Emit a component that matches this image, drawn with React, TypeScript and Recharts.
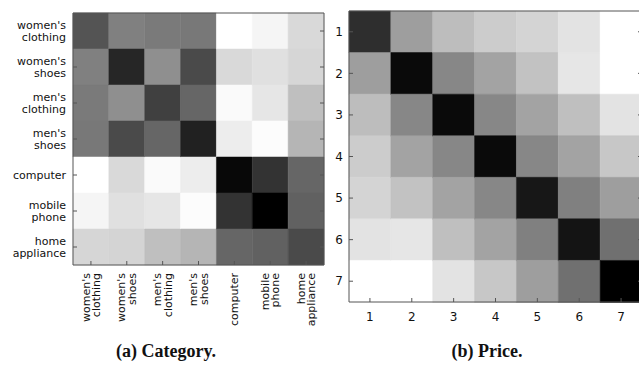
import { BarChart, Bar, Cell, XAxis, YAxis } from "recharts";

// row / column labels of the category similarity matrix
const categories = [
  "women's clothing",
  "women's shoes",
  "men's clothing",
  "men's shoes",
  "computer",
  "mobile phone",
  "home appliance",
];

// similarity, 1 = black, 0 = white
const categorySim = [
  [0.67, 0.5, 0.52, 0.53, 0.0, 0.04, 0.15],
  [0.5, 0.85, 0.44, 0.71, 0.15, 0.12, 0.16],
  [0.52, 0.44, 0.75, 0.6, 0.02, 0.1, 0.25],
  [0.53, 0.71, 0.6, 0.87, 0.07, 0.01, 0.29],
  [0.0, 0.15, 0.02, 0.07, 0.97, 0.8, 0.6],
  [0.04, 0.12, 0.1, 0.01, 0.8, 1.0, 0.62],
  [0.16, 0.17, 0.25, 0.29, 0.6, 0.62, 0.71],
];

const priceLevels = ["1", "2", "3", "4", "5", "6", "7"];

const priceSim = [
  [0.82, 0.38, 0.26, 0.2, 0.17, 0.11, 0.0],
  [0.38, 0.96, 0.47, 0.36, 0.24, 0.1, 0.0],
  [0.26, 0.47, 0.96, 0.47, 0.36, 0.25, 0.11],
  [0.2, 0.36, 0.47, 0.96, 0.47, 0.36, 0.22],
  [0.17, 0.24, 0.36, 0.47, 0.91, 0.5, 0.38],
  [0.11, 0.1, 0.25, 0.36, 0.5, 0.92, 0.56],
  [0.0, 0.0, 0.11, 0.22, 0.38, 0.56, 1.0],
];

const captions = ["(a) Category.", "(b) Price."];

const FRAME = "#555";
const FONT = "'DejaVu Sans', sans-serif";
const TEXT = "#111";

function gray(v: number) {
  const g = Math.round(255 * (1 - v));
  return `rgb(${g},${g},${g})`;
}

function toRows(labels: string[]) {
  return labels.map((name) => {
    const row: Record<string, string | number> = { name };
    labels.forEach((_, j) => (row[`c${j}`] = 1));
    return row;
  });
}

function BottomTick(props: any) {
  const { x, y, payload, labels, rotate, fontSize } = props;
  const label = labels[Math.floor(payload.value)];
  const lines = rotate ? label.split(" ") : [label];
  return (
    <g>
      <line x1={x} x2={x} y1={y} y2={y - 4} stroke={FRAME} />
      {rotate ? (
        <text
          transform={`translate(${x},${y + 8}) rotate(-90)`}
          textAnchor="end"
          fontSize={fontSize}
          fontFamily={FONT}
          fill={TEXT}
        >
          {lines.map((l: string, k: number) => (
            <tspan key={k} x={0} y={(k - (lines.length - 1) / 2) * 10.5} dy="0.35em">
              {l}
            </tspan>
          ))}
        </text>
      ) : (
        <text x={x} y={y + 15} dy="0.35em" textAnchor="middle" fontSize={fontSize} fontFamily={FONT} fill={TEXT}>
          {label}
        </text>
      )}
    </g>
  );
}

function LeftTick(props: any) {
  const { x, y, payload, gap, fontSize } = props;
  const lines = String(payload.value).split(" ");
  return (
    <g>
      <line x1={x} x2={x + 4} y1={y} y2={y} stroke={FRAME} />
      <text textAnchor="end" fontSize={fontSize} fontFamily={FONT} fill={TEXT}>
        {lines.map((l: string, k: number) => (
          <tspan key={k} x={x - gap} y={y + (k - (lines.length - 1) / 2) * 11.5} dy="0.35em">
            {l}
          </tspan>
        ))}
      </text>
    </g>
  );
}

function TopTick(props: any) {
  const { x, y } = props;
  return <line x1={x} x2={x} y1={y} y2={y + 4} stroke={FRAME} />;
}

function RightTick(props: any) {
  const { x, y } = props;
  return <line x1={x} x2={x - 4} y1={y} y2={y} stroke={FRAME} />;
}

interface HeatmapProps {
  labels: string[];
  matrix: number[][];
  width: number;
  height: number;
  margin: { top: number; right: number; bottom: number; left: number };
  yWidth: number;
  xHeight: number;
  rotate: boolean;
  fontSize: number;
  labelGap: number;
}

function Heatmap({ labels, matrix, width, height, margin, yWidth, xHeight, rotate, fontSize, labelGap }: HeatmapProps) {
  const rows = toRows(labels);
  const ticks = labels.map((_, j) => j + 0.5);
  return (
    <BarChart
      width={width}
      height={height}
      data={rows}
      layout="vertical"
      margin={margin}
      barCategoryGap={0}
      barGap={0}
    >
      <XAxis
        type="number"
        domain={[0, labels.length]}
        ticks={ticks}
        interval={0}
        height={xHeight}
        tickSize={0}
        tickMargin={0}
        tickLine={false}
        axisLine={{ stroke: FRAME }}
        tick={(p: any) => <BottomTick {...p} labels={labels} rotate={rotate} fontSize={fontSize} />}
      />
      <XAxis
        xAxisId="top"
        orientation="top"
        type="number"
        domain={[0, labels.length]}
        ticks={ticks}
        interval={0}
        height={1}
        tickSize={0}
        tickMargin={0}
        tickLine={false}
        axisLine={{ stroke: FRAME }}
        tick={(p: any) => <TopTick {...p} />}
      />
      <YAxis
        type="category"
        dataKey="name"
        width={yWidth}
        interval={0}
        tickSize={0}
        tickMargin={0}
        tickLine={false}
        axisLine={{ stroke: FRAME }}
        tick={(p: any) => <LeftTick {...p} gap={labelGap} fontSize={fontSize} />}
      />
      <YAxis
        yAxisId="r"
        orientation="right"
        type="category"
        dataKey="name"
        width={1}
        interval={0}
        tickSize={0}
        tickMargin={0}
        tickLine={false}
        axisLine={{ stroke: FRAME }}
        tick={(p: any) => <RightTick {...p} />}
      />
      {labels.map((_, j) => (
        <Bar key={j} dataKey={`c${j}`} stackId="s" isAnimationActive={false}>
          {matrix.map((row, i) => (
            <Cell key={i} fill={gray(row[j])} stroke={gray(row[j])} strokeWidth={0.5} />
          ))}
        </Bar>
      ))}
    </BarChart>
  );
}

export default function App() {
  return (
    <div
      style={{
        position: "absolute",
        left: 0,
        top: 0,
        width: 639,
        height: 365,
        overflow: "hidden",
        background: "#fff",
      }}
    >
      <div style={{ position: "absolute", left: 0, top: 0 }}>
        <Heatmap
          labels={categories}
          matrix={categorySim}
          width={330}
          height={335}
          margin={{ top: 12, right: 5, bottom: 0, left: 0 }}
          yWidth={73}
          xHeight={70}
          rotate={true}
          fontSize={11}
          labelGap={7}
        />
      </div>
      <div style={{ position: "absolute", left: 330, top: 0 }}>
        <Heatmap
          labels={priceLevels}
          matrix={priceSim}
          width={320}
          height={335}
          margin={{ top: 10, right: 7, bottom: 0, left: 0 }}
          yWidth={19}
          xHeight={33}
          rotate={false}
          fontSize={12}
          labelGap={6}
        />
      </div>
      <svg width={639} height={365} style={{ position: "absolute", left: 0, top: 0, pointerEvents: "none" }}>
        <text x={166} y={357} textAnchor="middle" fontFamily="'Liberation Serif', serif" fontWeight="bold" fontSize={18} fill={TEXT}>
          {captions[0]}
        </text>
        <text x={487} y={357} textAnchor="middle" fontFamily="'Liberation Serif', serif" fontWeight="bold" fontSize={18} fill={TEXT}>
          {captions[1]}
        </text>
      </svg>
    </div>
  );
}
